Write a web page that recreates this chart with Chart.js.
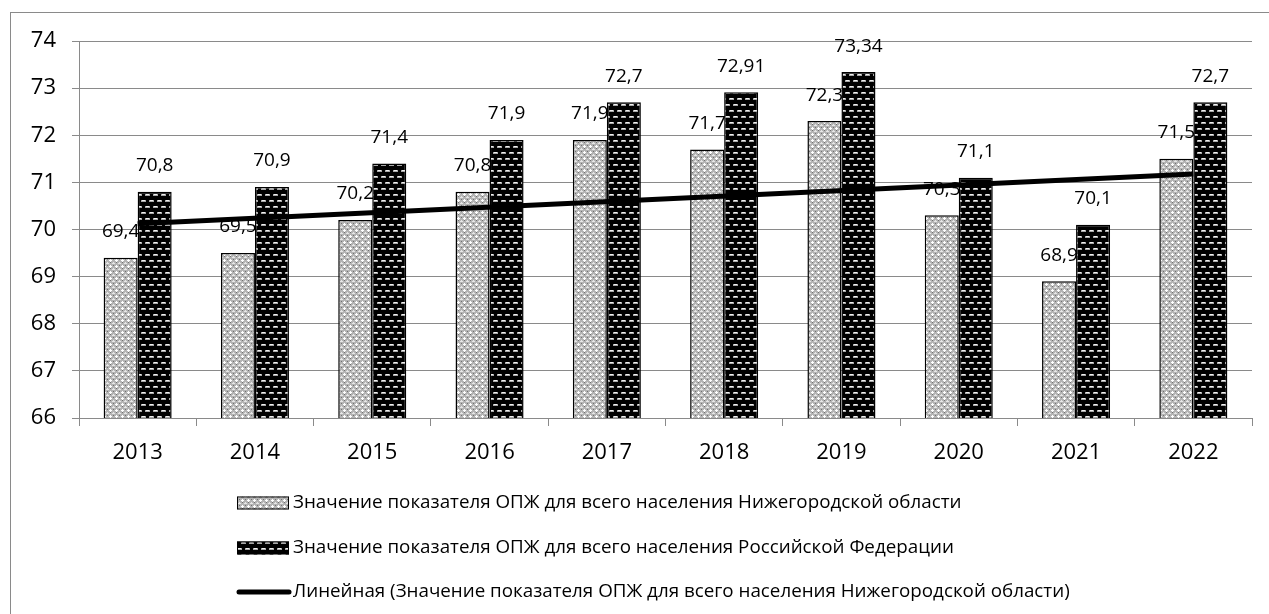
<!DOCTYPE html>
<html><head><meta charset="utf-8">
<script src="https://cdn.jsdelivr.net/npm/chart.js@4/dist/chart.umd.min.js"></script>
<style>html,body{margin:0;padding:0;background:#fff}#wrap{width:1269px;height:614px;position:relative}</style>
</head><body><div id="wrap"><canvas id="c"></canvas></div>
<script>
const years = ['2013','2014','2015','2016','2017','2018','2019','2020','2021','2022'];
const nizhny = [69.4, 69.5, 70.2, 70.8, 71.9, 71.7, 72.3, 70.3, 68.9, 71.5];
const russia = [70.8, 70.9, 71.4, 71.9, 72.7, 72.91, 73.34, 71.1, 70.1, 72.7];
// trend line endpoints (first and last category)
const trendStart = 70.12;
const trendEnd = 71.18;
const trend = years.map((_, i) => i === 0 ? trendStart : (i === years.length - 1 ? trendEnd : null));
const yTicks = [66, 67, 68, 69, 70, 71, 72, 73, 74];
const labelNames = [
  'Значение показателя ОПЖ для всего населения Нижегородской области',
  'Значение показателя ОПЖ для всего населения Российской Федерации',
  'Линейная (Значение показателя ОПЖ для всего населения Нижегородской области)'
];
const FONT = '"Open Sans", sans-serif';

function lightPattern() {
  const c = document.createElement('canvas'); c.width = 6; c.height = 6;
  const g = c.getContext('2d');
  g.fillStyle = '#b4b4b4'; g.fillRect(0, 0, 6, 6);
  g.fillStyle = '#ffffff';
  g.fillRect(2, 1, 1, 3); g.fillRect(1, 2, 3, 1);
  g.fillStyle = '#e6e6e6';
  g.fillRect(5, 4, 1, 3); g.fillRect(4, 5, 3, 1); g.fillRect(0,5,1,1);
  g.fillStyle = '#707070';
  g.fillRect(5, 1, 1, 1); g.fillRect(2, 4, 1, 1);
  return g.createPattern(c, 'repeat');
}
function darkPattern() {
  const c = document.createElement('canvas'); c.width = 8; c.height = 12;
  const g = c.getContext('2d');
  g.fillStyle = '#000'; g.fillRect(0, 0, 8, 12);
  g.fillStyle = '#a8a8a8';
  g.fillRect(1, 2, 5, 2);
  g.fillRect(5, 8, 3, 2); g.fillRect(0, 8, 2, 2);
  g.fillStyle = '#f0f0f0';
  g.fillRect(2, 2, 3, 1);
  g.fillRect(6, 8, 2, 1); g.fillRect(0, 8, 1, 1);
  return g.createPattern(c, 'repeat');
}
const pLight = lightPattern();
const pDark = darkPattern();

const frame = {
  id: 'frame',
  beforeDraw(chart) {
    const ctx = chart.ctx;
    ctx.save();
    ctx.strokeStyle = '#8a8a8a'; ctx.lineWidth = 1;
    ctx.strokeRect(10.5, 12.5, 1300, 700);
    ctx.restore();
  }
};
const valueLabels = {
  id: 'valueLabels',
  afterDatasetsDraw(chart) {
    const ctx = chart.ctx;
    ctx.save();
    ctx.font = '19px ' + FONT;
    ctx.fillStyle = '#000';
    ctx.textAlign = 'center';
    ctx.textBaseline = 'middle';
    [0, 1].forEach(di => {
      const meta = chart.getDatasetMeta(di);
      meta.data.forEach((el, i) => {
        const v = chart.data.datasets[di].data[i];
        ctx.fillText(String(v).replace('.', ','), el.x, el.y - 26);
      });
    });
    ctx.restore();
  }
};
const customLegend = {
  id: 'customLegend',
  afterDraw(chart) {
    const ctx = chart.ctx;
    const rows = [503, 548, 592];
    ctx.save();
    ctx.font = '18.8px ' + FONT;
    ctx.fillStyle = '#000';
    ctx.textBaseline = 'middle';
    ctx.textAlign = 'left';
    chart.data.datasets.forEach((ds, i) => {
      const y = rows[i];
      if (ds.type === 'line') {
        ctx.strokeStyle = ds.borderColor; ctx.lineWidth = 5; ctx.lineCap = 'round';
        ctx.beginPath(); ctx.moveTo(239, y); ctx.lineTo(289, y); ctx.stroke();
      } else {
        ctx.fillStyle = ds.backgroundColor;
        ctx.fillRect(237, y - 6.5, 52, 13);
        ctx.strokeStyle = '#000'; ctx.lineWidth = 1;
        ctx.strokeRect(237.5, y - 6, 51, 12);
      }
      ctx.fillStyle = '#000';
      ctx.fillText(ds.label, 293, y);
    });
    ctx.restore();
  }
};

new Chart(document.getElementById('c'), {
  type: 'bar',
  data: {
    labels: years,
    datasets: [
      { label: labelNames[0], data: nizhny, backgroundColor: pLight, borderColor: '#000', borderWidth: 1.5, order: 2,
        categoryPercentage: 0.58, barPercentage: 1.0 },
      { label: labelNames[1], data: russia, backgroundColor: pDark, borderColor: '#000', borderWidth: 1.5, order: 2,
        categoryPercentage: 0.58, barPercentage: 1.0 },
      { type: 'line', label: labelNames[2], data: trend, borderColor: '#000', borderWidth: 5, pointRadius: 0,
        spanGaps: true, fill: false, order: 0 }
    ]
  },
  options: {
    responsive: true, maintainAspectRatio: false, animation: false,
    layout: { padding: { top: 41, right: 17, left: 0, bottom: 0 } },
    plugins: { legend: { display: false }, tooltip: { enabled: false } },
    scales: {
      x: {
        grid: { display: true, drawOnChartArea: false, drawTicks: true, tickLength: 8, color: '#8a8a8a', offset: true },
        border: { color: '#8a8a8a', width: 1 },
        ticks: { color: '#000', font: { family: FONT, size: 22 }, padding: 14 },
        afterFit(s) { s.height = 614 - 418; }
      },
      y: {
        min: 66, max: 74,
        afterBuildTicks(s) { s.ticks = yTicks.map(v => ({ value: v })); },
        grid: { color: '#8a8a8a', tickLength: 7, lineWidth: 1 },
        border: { color: '#8a8a8a', width: 1 },
        ticks: { color: '#000', font: { family: FONT, size: 22 }, padding: 16 },
        afterFit(s) { s.width = 79; }
      }
    }
  },
  plugins: [frame, valueLabels, customLegend]
});
</script></body></html>
